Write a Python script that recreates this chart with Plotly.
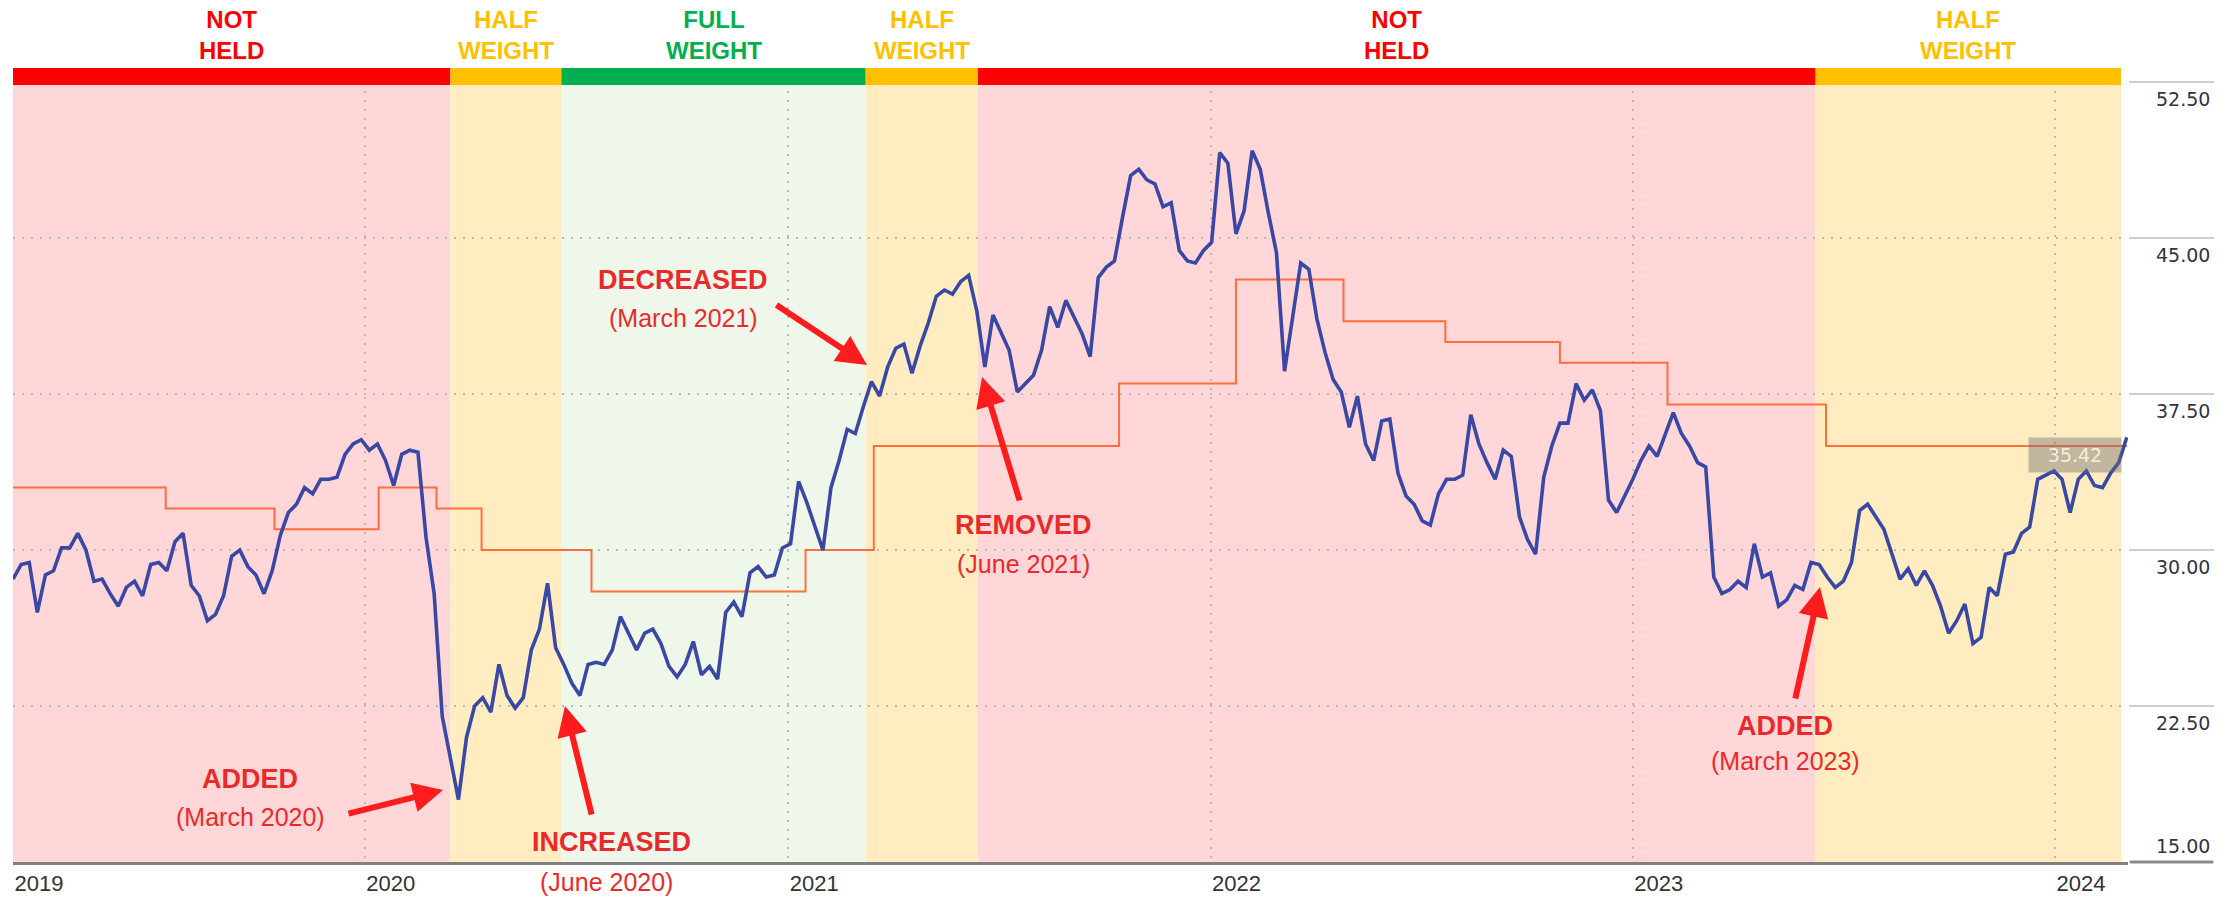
import pandas as pd
import plotly.graph_objects as go

# ---------------- data ----------------
price_start = "2019-03-03"   # weekly closes
price = [
    28.6, 29.3, 29.4, 27.0, 28.8, 29.0, 30.1, 30.1, 30.8, 30.0,
    28.5, 28.6, 27.9, 27.3, 28.2, 28.5, 27.8, 29.3, 29.4, 29.0,
    30.4, 30.8, 28.3, 27.8, 26.6, 26.9, 27.8, 29.7, 30.0, 29.2,
    28.8, 27.9, 29.0, 30.7, 31.8, 32.2, 33.0, 32.7, 33.4, 33.4,
    33.5, 34.6, 35.1, 35.3, 34.8, 35.1, 34.3, 33.1, 34.6, 34.8,
    34.7, 30.6, 27.9, 22.0, 20.0, 18.0, 21.0, 22.5, 22.9, 22.2,
    24.5, 23.0, 22.4, 22.9, 25.2, 26.2, 28.4, 25.3, 24.5, 23.6,
    23.0, 24.5, 24.6, 24.5, 25.2, 26.8, 26.0, 25.2, 26.0, 26.2,
    25.5, 24.4, 23.9, 24.5, 25.6, 24.0, 24.4, 23.8, 27.0, 27.5,
    26.8, 28.9, 29.2, 28.7, 28.8, 30.1, 30.3, 33.3, 32.3, 31.1,
    30.0, 33.0, 34.3, 35.8, 35.6, 36.9, 38.1, 37.4, 38.8, 39.7,
    39.9, 38.5, 39.8, 40.9, 42.2, 42.5, 42.3, 42.9, 43.2, 41.5,
    38.8, 41.3, 40.4, 39.6, 37.6, 38.0, 38.4, 39.6, 41.7, 40.7,
    42.0, 41.2, 40.4, 39.3, 43.1, 43.6, 43.9, 46.0, 48.0, 48.3,
    47.8, 47.6, 46.5, 46.7, 44.4, 43.9, 43.8, 44.4, 44.8, 49.1,
    48.6, 45.2, 46.3, 49.2, 48.3, 46.2, 44.3, 38.6, 41.1, 43.8,
    43.5, 41.1, 39.5, 38.2, 37.6, 35.9, 37.4, 35.1, 34.3, 36.2,
    36.3, 33.7, 32.6, 32.2, 31.4, 31.2, 32.7, 33.4, 33.4, 33.6,
    36.5, 35.1, 34.2, 33.4, 34.8, 34.5, 31.6, 30.5, 29.8, 33.5,
    35.0, 36.1, 36.1, 38.0, 37.2, 37.7, 36.7, 32.4, 31.8, 32.6,
    33.4, 34.3, 35.0, 34.5, 35.6, 36.6, 35.6, 35.0, 34.2, 34.0,
    28.7, 27.9, 28.1, 28.5, 28.2, 30.3, 28.7, 28.9, 27.3, 27.6,
    28.3, 28.1, 29.4, 29.3, 28.7, 28.2, 28.5, 29.4, 31.9, 32.2,
    31.6, 31.0, 29.8, 28.6, 29.1, 28.3, 29.0, 28.3, 27.3, 26.0,
    26.6, 27.4, 25.5, 25.8, 28.2, 27.8, 29.8, 29.9, 30.8, 31.1,
    33.4, 33.6, 33.8, 33.4, 31.8, 33.4, 33.8, 33.1, 33.0, 33.7,
    34.2, 35.42,
]
price_dates = pd.date_range(price_start, periods=len(price), freq="7D")

step_dates = ["2019-03-03", "2019-07-13", "2019-10-15", "2020-01-13", "2020-03-03",
              "2020-04-11", "2020-07-15", "2021-01-16", "2021-03-16", "2021-10-14",
              "2022-01-23", "2022-04-26", "2022-07-23", "2022-10-30", "2023-01-31",
              "2023-06-17", "2024-03-03"]
step_values = [33, 32, 31, 33, 32, 30, 28, 30, 35, 38, 43, 41, 40, 39, 37, 35, 35]

period_starts = ["2019-03-03", "2020-03-15", "2020-06-19", "2021-03-09", "2021-06-14", "2023-06-08"]
period_ends   = ["2020-03-15", "2020-06-19", "2021-03-09", "2021-06-14", "2023-06-08", "2024-02-27"]
period_labels = ["NOT<br>HELD", "HALF<br>WEIGHT", "FULL<br>WEIGHT", "HALF<br>WEIGHT", "NOT<br>HELD", "HALF<br>WEIGHT"]
period_kinds  = ["not", "half", "full", "half", "not", "half"]

x_ticks = ["2019-03-03", "2020-01-01", "2021-01-01", "2022-01-01", "2023-01-01", "2024-01-01"]
x_tick_text = ["2019", "2020", "2021", "2022", "2023", "2024"]
y_ticks = [15, 22.5, 30, 37.5, 45, 52.5]
y_tick_text = ["15.00", "22.50", "30.00", "37.50", "45.00", "52.50"]

events_title = ["ADDED", "INCREASED", "DECREASED", "REMOVED", "ADDED"]
events_sub = ["(March 2020)", "(June 2020)", "(March 2021)", "(June 2021)", "(March 2023)"]

# ---------------- styling / layout ----------------
W, H = 2237, 899
PL, PR, PT, PB = 13, 2128, 82, 862   # plot area in pixels


def PX(x):
    return (x - PL) / (PR - PL)


def PY(y):
    return (PB - y) / (PB - PT)


BAR_COL = {"not": "#FF0000", "half": "#FFC000", "full": "#00B050"}
BG_COL = {"not": "#FFD7D9", "half": "#FFEDC1", "full": "#EFF6EA"}
NARROW = "Liberation Sans, Arial, sans-serif"
RED_TXT = "#EA2A2A"
RED_ARROW = "#FF1C1C"

fig = go.Figure()
fig.add_trace(go.Scatter(x=step_dates, y=step_values, mode="lines", line_shape="hv",
                         line=dict(color="rgba(255,98,45,0.9)", width=2), hoverinfo="skip"))
fig.add_trace(go.Scatter(x=price_dates, y=price, mode="lines",
                         line=dict(color="#3A48A5", width=3.6), hoverinfo="skip"))

shapes = []
annotations = []
for s, e, lab, k in zip(period_starts, period_ends, period_labels, period_kinds):
    shapes.append(dict(type="rect", xref="x", yref="paper", x0=s, x1=e, y0=0, y1=1,
                       fillcolor=BG_COL[k], line_width=0, layer="below"))
    shapes.append(dict(type="rect", xref="x", yref="paper", x0=s, x1=e, y0=PY(85), y1=PY(68),
                       fillcolor=BAR_COL[k], line_width=0, layer="above"))
    mid = pd.Timestamp(s) + (pd.Timestamp(e) - pd.Timestamp(s)) / 2
    annotations.append(dict(x=mid, xref="x", y=PY(35), yref="paper", text="<b>%s</b>" % lab,
                            showarrow=False,
                            font=dict(family=NARROW, size=24, color=BAR_COL[k]),
                            xanchor="center", yanchor="middle"))

# bottom right tick line (dark)
shapes.append(dict(type="line", xref="paper", yref="paper", x0=PX(2130), x1=PX(2213),
                   y0=PY(862), y1=PY(862), line=dict(color="#8a8a8a", width=3)))

# y tick labels (below their lines, the bottom one above)
for v, t in zip(y_ticks, y_tick_text):
    annotations.append(dict(x=PX(2212), xref="paper", y=v, yref="y", text=t, showarrow=False,
                            xanchor="right", yanchor="middle", yshift=16 if v == 15 else -17,
                            font=dict(family="DejaVu Sans", size=19, color="#333344")))

# event labels
title_pos = [(250, 779), (611, 842), (683, 280), (1023, 525), (1785, 726)]
sub_pos = [(250, 817), (606, 882), (683, 318), (1023, 564), (1785, 761)]
for t, (x, y) in zip(events_title, title_pos):
    annotations.append(dict(x=PX(x), xref="paper", y=PY(y), yref="paper", text="<b>%s</b>" % t,
                            showarrow=False, xanchor="center", yanchor="middle",
                            font=dict(family=NARROW, size=27, color=RED_TXT)))
for t, (x, y) in zip(events_sub, sub_pos):
    annotations.append(dict(x=PX(x), xref="paper", y=PY(y), yref="paper", text=t,
                            showarrow=False, xanchor="center", yanchor="middle",
                            font=dict(family=NARROW, size=25, color=RED_TXT)))

# arrows: tip, tail (pixels)
arrows = [((443, 790), (347, 814)), ((565, 706), (592, 816)), ((867, 365), (775, 304)),
          ((982, 377), (1020, 502)), ((1820, 587), (1795, 700))]
for (tx, ty), (sx, sy) in arrows:
    annotations.append(dict(x=PX(tx), xref="paper", y=PY(ty), yref="paper", text="",
                            showarrow=True, arrowhead=2, arrowsize=1.0, arrowwidth=6,
                            arrowcolor=RED_ARROW, ax=sx - tx, ay=sy - ty, standoff=0))

# last price tag
annotations.append(dict(x=PX(2122), xref="paper", y=price[-1], yref="y", text="%.2f" % price[-1],
                        showarrow=False, xanchor="right", yanchor="top", width=86, height=28,
                        borderpad=3, bgcolor="rgba(110,110,110,0.42)",
                        font=dict(family="DejaVu Sans", size=19, color="#F4EEDA")))

fig.update_layout(
    width=W, height=H,
    margin=dict(l=PL, r=W - PR, t=PT, b=H - PB, pad=0, autoexpand=False),
    paper_bgcolor="white", plot_bgcolor="white", showlegend=False,
    shapes=shapes, annotations=annotations,
    xaxis=dict(type="date", range=["2019-03-03", "2024-03-04"], tickvals=x_ticks, ticktext=x_tick_text,
               ticklabelposition="outside right", ticks="", showgrid=True, gridcolor="#b9b9b9",
               griddash="2px,7px", gridwidth=1.5, showline=True, linecolor="#7f7f7f", linewidth=3,
               zeroline=False, automargin=False,
               tickfont=dict(family="Liberation Sans", size=22, color="#333333")),
    yaxis=dict(range=[15, 52.5], side="right", tickvals=y_ticks, showticklabels=False,
               ticks="outside", ticklen=85, tickwidth=2, tickcolor="#cfcfcf", showgrid=True,
               gridcolor="#b9b9b9", griddash="2px,7px", gridwidth=1.5, zeroline=False, showline=False,
               automargin=False),
)

# remove the default page margin so the figure fills the window exactly
fig.write_html("out.html", config={"displayModeBar": False},
               post_script="document.body.style.margin='0';document.body.style.overflow='hidden';")
